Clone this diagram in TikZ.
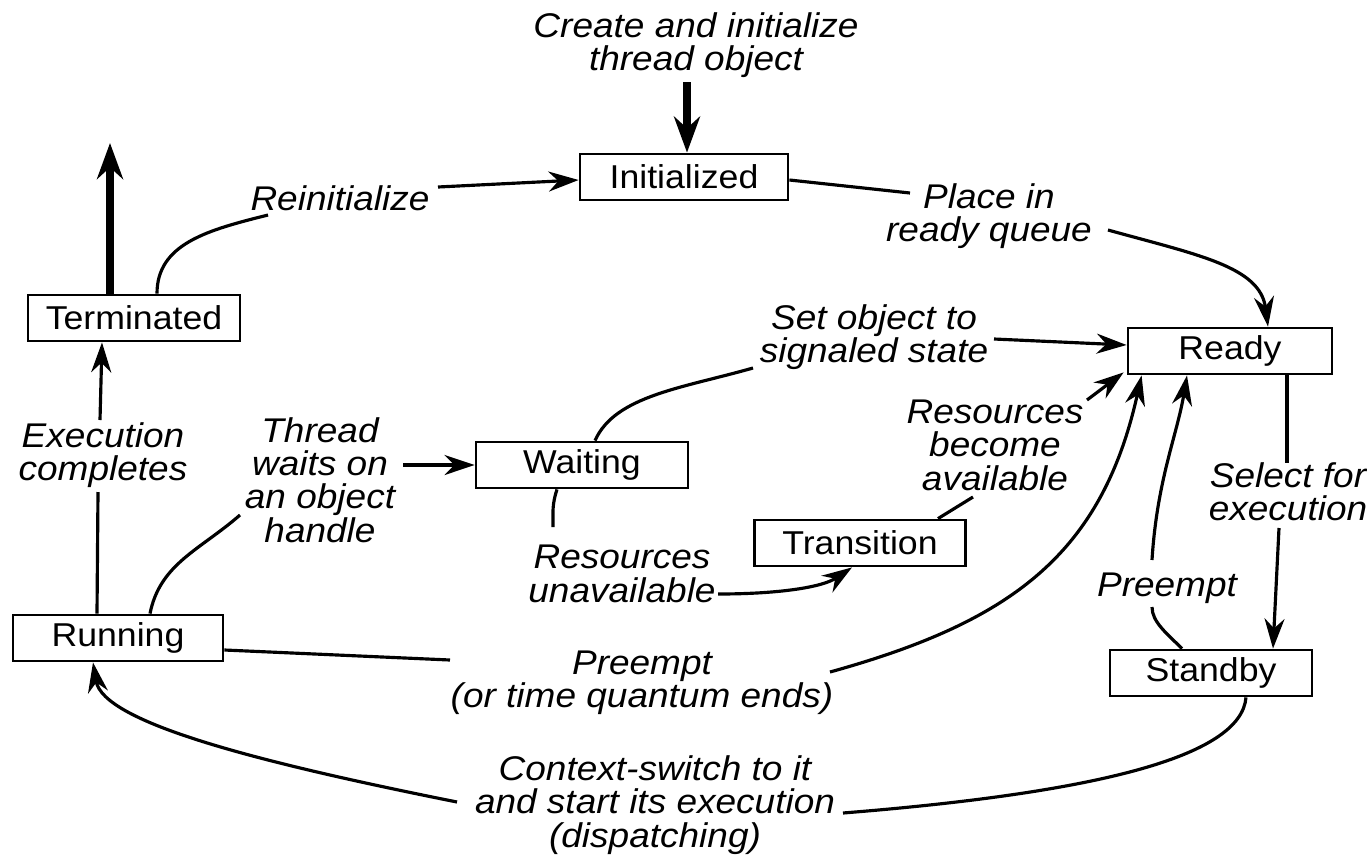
\documentclass[tikz,border=0pt]{standalone}
\usepackage{fontspec}
\setmainfont{Liberation Sans}[FakeStretch=1.08]
\usetikzlibrary{arrows.meta,calc}
\begin{document}
\begin{tikzpicture}[x=0.1mm,y=-0.1mm,
  state/.style={draw,line width=0.8pt,minimum width=20.8mm,minimum height=4.6mm,inner sep=0pt,font=\fontsize{9.4}{11}\selectfont},
  lbl/.style={align=center,inner sep=1pt,font=\fontsize{9.75}{9.5}\selectfont\itshape},
  conn/.style={line width=0.9pt},
  arr/.style={conn,-{Stealth[length=3mm,width=2mm]}},
  bigarr/.style={line width=2pt,-{Stealth[length=3.6mm,width=2.6mm]}}]
\useasboundingbox (0,0) rectangle (1367,859);
\fill[white] (0,0) rectangle (1367,859);
% states
\node[state] (init) at (684,177) {Initialized};
\node[state,minimum width=21.2mm] (term) at (134,318) {Terminated};
\node[state,minimum width=20.4mm] (ready) at (1230,351) {Ready};
\node[state,minimum width=21.2mm] (wait) at (582,465) {Waiting};
\node[state,minimum width=21.1mm] (trans) at (860,543) {Transition};
\node[state,minimum width=21mm] (run) at (118,638) {Running};
\node[state,minimum width=20.2mm] (stand) at (1211,673) {Standby};
% labels
\node[lbl] (lcreate) at (696,45) {Create and initialize\\thread object};
\node[lbl] (lreinit) at (340,198) {Reinitialize};
\node[lbl] (lplace) at (989,216) {Place in\\ready queue};
\node[lbl] (lset) at (874,337) {Set object to\\signaled state};
\node[lbl] (lresav) at (995,445) {Resources\\become\\available};
\node[lbl] (lthread) at (320,480) {Thread\\waits on\\an object\\handle};
\node[lbl] (lexec) at (103,455) {Execution\\completes};
\node[lbl] (lresun) at (622,574) {Resources\\unavailable};
\node[lbl] (lpre) at (642,683) {Preempt\\(or time quantum ends)};
\node[lbl] (lsel) at (1288,492) {Select for\\execution};
\node[lbl] (lpre2) at (1167,588) {Preempt};
\node[lbl] (lctx) at (655,805) {Context-switch to it\\and start its execution\\(dispatching)};
% free ends
\coordinate (crt) at (687,82);
\coordinate (exit) at (110,143);
\coordinate (rein1) at (268,215);
\coordinate (rein2) at (438,187);
\coordinate (place1) at (910,193);
\coordinate (place2) at (1108,230);
\coordinate (set1) at (753,368);
\coordinate (set2) at (994,339);
\coordinate (rav1) at (973,497);
\coordinate (rav2) at (1087,400);
\coordinate (thr1) at (240,515);
\coordinate (thr2) at (403,465);
\coordinate (exe1) at (98,492);
\coordinate (exe2) at (100,420);
\coordinate (uns1) at (553,527);
\coordinate (uns2) at (718,594);
\coordinate (pre1) at (450,660);
\coordinate (pre2) at (830,672);
\coordinate (sel1) at (1287,463);
\coordinate (sel2) at (1279,528);
\coordinate (pp1) at (1152,607);
\coordinate (pp2) at (1152,560);
\coordinate (ctx1) at (843,813);
\coordinate (ctx2) at (457,802);
% connectors
\draw[bigarr] (crt) -- (init.north -| crt);
\draw[bigarr] (term.north -| exit) -- (exit);
\draw[conn] ($(term.north)+(23,0)$) .. controls +(0,-50) and +(-60,15) .. (rein1);
\draw[arr] (rein2) -- ($(init.west)+(0,3)$);
\draw[conn] ($(init.east)+(0,3)$) -- (place1);
\draw[arr] (place2) .. controls +(90,25) and +(-8,-60) .. ($(ready.north)+(38,0)$);
\draw[conn] ($(wait.north)+(13,0)$) .. controls +(20,-45) and +(-70,20) .. (set1);
\draw[arr] (set2) -- ($(ready.west)+(0,-6)$);
\draw[conn] ($(trans.north)+(78,0)$) -- (rav1);
\draw[arr] (rav2) -- ($(ready.south west)+(-3,-3)$);
\draw[conn] ($(run.north)+(32,0)$) .. controls +(10,-50) and +(-40,35) .. (thr1);
\draw[arr] (thr2) -- (wait.west);
\draw[conn] ($(run.north)+(-21,0)$) -- (exe1);
\draw[arr] (exe2) -- ($(term.south)+(-32,0)$);
\draw[conn] ($(wait.south)+(-25,0)$) .. controls +(-5,15) and +(0,-15) .. (uns1);
\draw[arr] (uns2) .. controls +(60,0) and +(-30,20) .. ($(trans.south)+(-8,0)$);
\draw[conn] ($(run.east)+(0,12)$) -- (pre1);
\draw[arr] (pre2) .. controls +(180,-50) and +(-40,180) .. ($(ready.south west)+(15,0)$);
\draw[conn] ($(ready.south)+(57,0)$) -- (sel1);
\draw[arr] (sel2) -- ($(stand.north)+(62,0)$);
\draw[conn] ($(stand.north)+(-29,0)$) .. controls +(-15,-15) and +(0,15) .. (pp1);
\draw[arr] (pp2) .. controls +(5,-80) and +(-10,60) .. ($(ready.south)+(-43,0)$);
\draw[conn] ($(stand.south)+(35,0)$) .. controls +(-5,60) and +(250,-20) .. (ctx1);
\draw[arr] (ctx2) .. controls +(-200,-40) and +(10,60) .. ($(run.south)+(-25,0)$);
\end{tikzpicture}
\end{document}
